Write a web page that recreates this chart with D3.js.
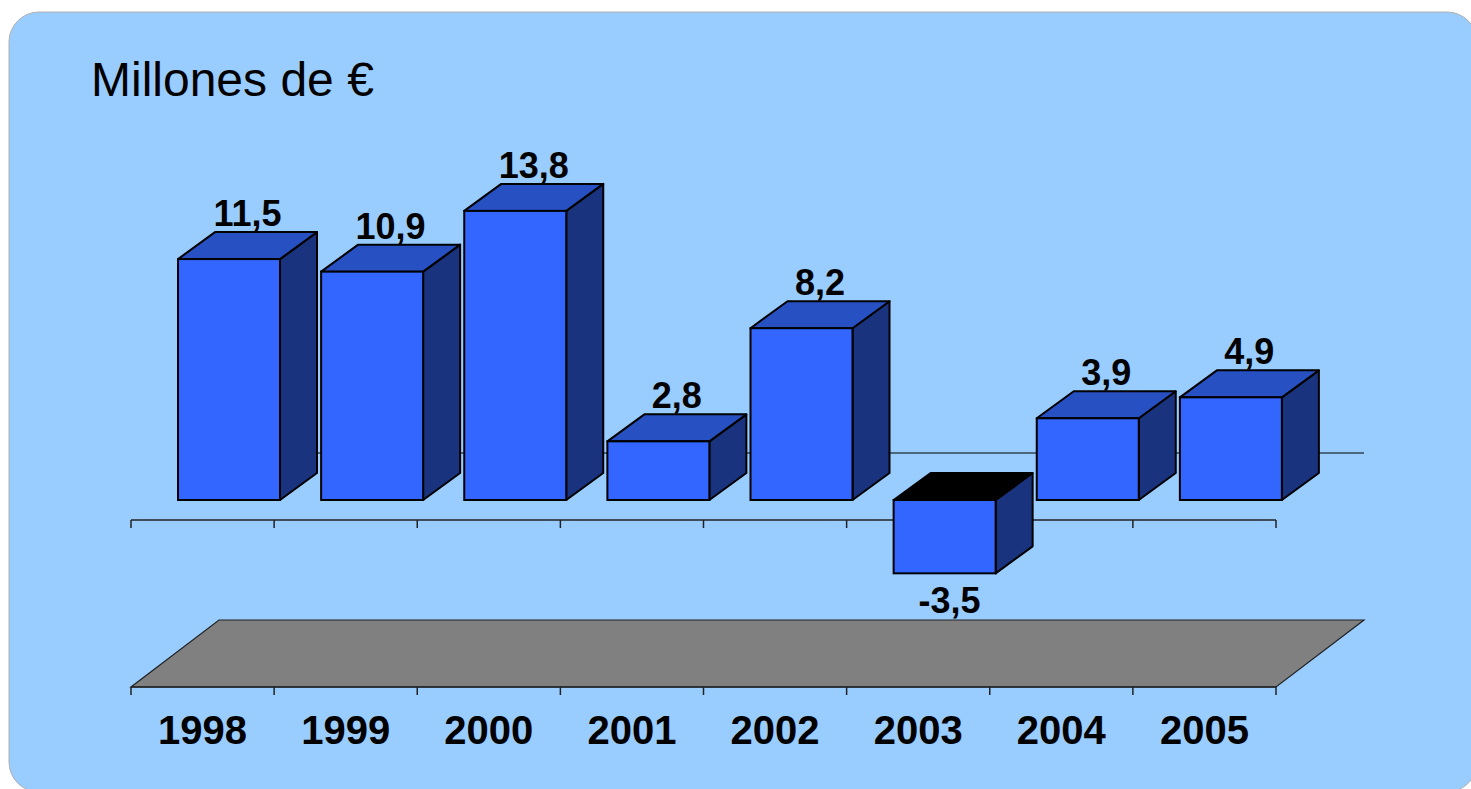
<!DOCTYPE html>
<html>
<head>
<meta charset="utf-8">
<script src="https://cdn.jsdelivr.net/npm/d3@7"></script>
<style>
  html, body { margin: 0; padding: 0; background: #ffffff; }
  svg { display: block; }
</style>
</head>
<body>
<svg id="chart" width="1471" height="789"></svg>
<script>
// ---- data ----
const years  = ["1998", "1999", "2000", "2001", "2002", "2003", "2004", "2005"];
const values = [11.5, 10.9, 13.8, 2.8, 8.2, -3.5, 3.9, 4.9];
const valueLabels = ["11,5", "10,9", "13,8", "2,8", "8,2", "-3,5", "3,9", "4,9"];
const title = "Millones de €";

// ---- layout ----
const svg = d3.select("#chart");
const FONT = "'Liberation Sans', Arial, Helvetica, sans-serif";

const axisLeft = 131, axisRight = 1276;
const x = d3.scaleBand().domain(years).range([axisLeft, axisRight]).paddingInner(0).paddingOuter(0);
const bw = x.bandwidth();

// y scale: value -> front-face y (zero at 500)
const y = d3.scaleLinear().domain([-5, 15]).range([500 + 5 * 20.95, 500 - 15 * 20.95]);

const frontOff = 47, barW = 102;   // front face position within band
const ddx = 37, ddy = 27;          // bar depth projection
const floorDx = 88, floorDy = 67;  // total chart depth projection
const axisY = 520, floorFrontY = 687;

const colFront = "#3366FF", colTop = "#2750C2", colSide = "#1A337E";

// background
svg.append("rect")
  .attr("x", 9).attr("y", 12).attr("width", 1468).attr("height", 780)
  .attr("rx", 30).attr("ry", 30)
  .attr("fill", "#99CCFF").attr("stroke", "#b0b0b0").attr("stroke-width", 1);

// title
svg.append("text")
  .attr("x", 91).attr("y", 96)
  .attr("font-family", FONT).attr("font-size", 48)
  .attr("fill", "#000")
  .text(title);

// floor
const fl = [
  [axisLeft, floorFrontY], [axisRight, floorFrontY],
  [axisRight + floorDx, floorFrontY - floorDy], [axisLeft + floorDx, floorFrontY - floorDy]
];
svg.append("path")
  .attr("d", "M" + fl.map(p => p.join(",")).join("L") + "Z")
  .attr("fill", "#808080").attr("stroke", "#222").attr("stroke-width", 1.2);

// back-wall zero line
svg.append("line")
  .attr("x1", axisLeft + floorDx).attr("x2", axisRight + floorDx)
  .attr("y1", axisY - floorDy).attr("y2", axisY - floorDy)
  .attr("stroke", "#000").attr("stroke-width", 1.2);

// tick boundaries
const bounds = years.map(d => x(d)).concat([axisRight]);

function drawAxis(yPos) {
  const g = svg.append("g");
  g.append("line")
    .attr("x1", axisLeft).attr("x2", axisRight)
    .attr("y1", yPos).attr("y2", yPos)
    .attr("stroke", "#222").attr("stroke-width", 1.5);
  g.selectAll("line.tick").data(bounds).enter().append("line")
    .attr("class", "tick")
    .attr("x1", d => d).attr("x2", d => d)
    .attr("y1", yPos).attr("y2", yPos + 8)
    .attr("stroke", "#222").attr("stroke-width", 1.5);
}
drawAxis(axisY);
drawAxis(floorFrontY);

// bars
const poly = pts => "M" + pts.map(p => p.join(",")).join("L") + "Z";
const bars = svg.append("g");
years.forEach((yr, i) => {
  const v = values[i];
  const x0 = x(yr) + frontOff, x1 = x0 + barW;
  const yTop = y(Math.max(v, 0)), yBot = y(Math.min(v, 0));
  const g = bars.append("g");
  // side
  g.append("path")
    .attr("d", poly([[x1, yBot], [x1, yTop], [x1 + ddx, yTop - ddy], [x1 + ddx, yBot - ddy]]))
    .attr("fill", colSide).attr("stroke", "#000").attr("stroke-width", 2).attr("stroke-linejoin", "round");
  // top
  g.append("path")
    .attr("d", poly([[x0, yTop], [x1, yTop], [x1 + ddx, yTop - ddy], [x0 + ddx, yTop - ddy]]))
    .attr("fill", v < 0 ? "#000" : colTop).attr("stroke", "#000").attr("stroke-width", 2).attr("stroke-linejoin", "round");
  // front
  g.append("rect")
    .attr("x", x0).attr("y", yTop).attr("width", barW).attr("height", yBot - yTop)
    .attr("fill", colFront).attr("stroke", "#000").attr("stroke-width", 2);
});

// value labels
svg.append("g").selectAll("text").data(years).enter().append("text")
  .attr("x", (d, i) => {
    const cx = x(d) + frontOff + barW / 2;
    return values[i] < 0 ? cx + 5 : cx + ddx / 2;
  })
  .attr("y", (d, i) => values[i] < 0 ? y(values[i]) + 40 : y(values[i]) - ddy - 6)
  .attr("text-anchor", "middle")
  .attr("font-family", FONT).attr("font-weight", "bold").attr("font-size", 36)
  .attr("fill", "#000")
  .text((d, i) => valueLabels[i]);

// category labels
svg.append("g").selectAll("text").data(years).enter().append("text")
  .attr("x", d => x(d) + bw / 2)
  .attr("y", 744)
  .attr("text-anchor", "middle")
  .attr("font-family", FONT).attr("font-weight", "bold").attr("font-size", 40)
  .attr("fill", "#000")
  .text(d => d);
</script>
</body>
</html>
